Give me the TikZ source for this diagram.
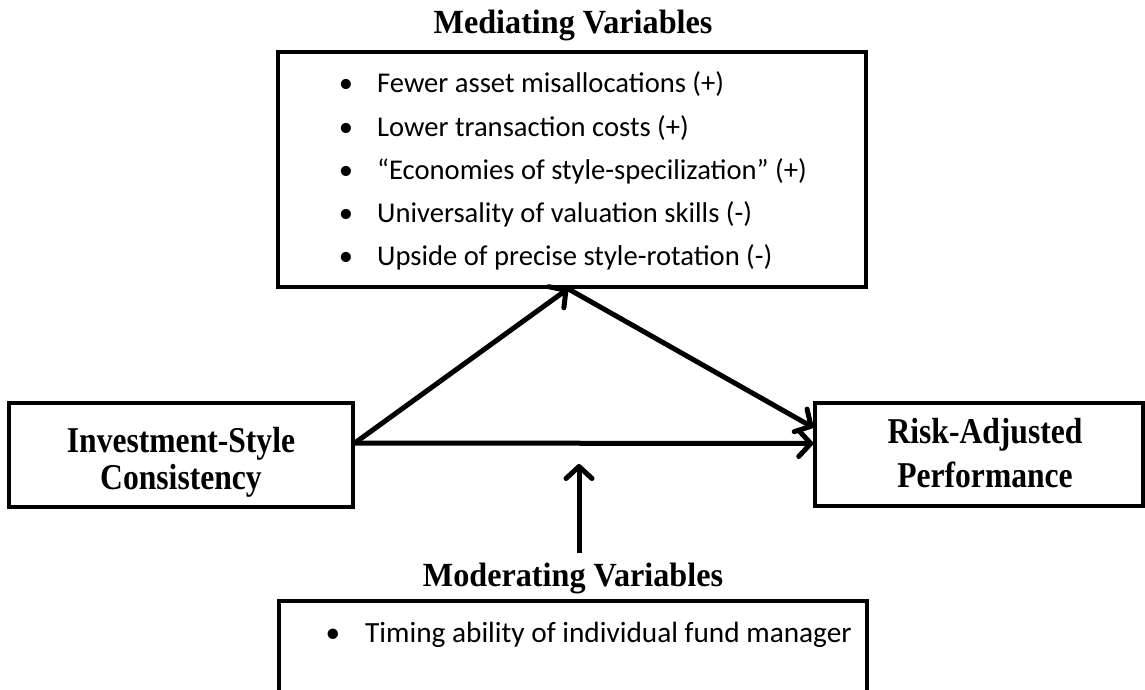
\documentclass[tikz,border=0pt]{standalone}
\usepackage{fontspec}
\usepackage{graphicx}
\setmainfont{Liberation Serif}
\newfontfamily\bodyfont{Carlito}
\usetikzlibrary{arrows.meta}
\newcommand{\tallB}[1]{\scalebox{1}[1.15]{#1}}
\newcommand{\tallT}[1]{\scalebox{1}[1.05]{#1}}
\tikzset{
  box/.style={draw=black, line width=3.5pt, rectangle, inner sep=0pt},
  lbl/.style={font=\fontsize{31.6}{35}\selectfont\bfseries, anchor=base, inner sep=0pt},
  ttl/.style={font=\fontsize{32.2}{35}\selectfont\bfseries, anchor=base, inner sep=0pt},
  itm/.style={font=\bodyfont\fontsize{28.6}{34}\selectfont, anchor=base west, inner sep=0pt},
  bul/.style={font=\bodyfont\fontsize{28.6}{34}\selectfont, anchor=base, inner sep=0pt},
  arr/.style={line width=5pt, -{Straight Barb[length=12pt,width=26pt,line cap=round,line join=round]}}
}
\begin{document}
\begin{tikzpicture}[x=1pt,y=-1pt]
\useasboundingbox (0,0) rectangle (1145,690);
\clip (0,0) rectangle (1145,690);
\fill[white] (0,0) rectangle (1145,690);
% titles
\node[ttl] (medt) at (573,34) {\tallT{Mediating Variables}};
\node[ttl] (modt) at (573,586) {\tallT{Moderating Variables}};
% boxes
\node[box, minimum width=588pt, minimum height=235pt] (med) at (572,169.5) {};
\node[box, minimum width=344pt, minimum height=104pt] (inv) at (181,455) {};
\node[box, minimum width=328pt, minimum height=103pt] (risk) at (979,454.5) {};
\node[box, minimum width=588pt, minimum height=200pt] (mod) at (573,701) {};
% box texts
\node[lbl] (invt1) at (181,452) {\tallB{Investment-Style}};
\node[lbl] (invt2) at (181,489) {\tallB{Consistency}};
\node[lbl] (riskt1) at (985,443) {\tallB{Risk-Adjusted}};
\node[lbl] (riskt2) at (985,487) {\tallB{Performance}};
% mediating items
\node[bul] (b1) at (346,93) {•};
\node[itm] (i1) at (377,93) {Fewer asset misallocations (+)};
\node[bul] (b2) at (346,136) {•};
\node[itm] (i2) at (377,136) {Lower transaction costs (+)};
\node[bul] (b3) at (346,179) {•};
\node[itm] (i3) at (377,179) {“Economies of style-specilization” (+)};
\node[bul] (b4) at (346,222) {•};
\node[itm] (i4) at (377,222) {Universality of valuation skills (-)};
\node[bul] (b5) at (346,265) {•};
\node[itm] (i5) at (377,265) {Upside of precise style-rotation (-)};
% moderating item
\node[bul, font=\bodyfont\fontsize{29.3}{34}\selectfont] (b6) at (333,642) {•};
\node[itm, font=\bodyfont\fontsize{29.3}{34}\selectfont] (i6) at (365,642) {Timing ability of individual fund manager};
% connectors
\coordinate (start) at ([yshift=12pt]inv.east);
\coordinate (apex) at ([xshift=-4pt]med.south);
\coordinate (endh) at ([yshift=11pt]risk.west);
\coordinate (endd) at ([yshift=27pt]risk.west);
\coordinate (vb) at (579,553);
\coordinate (vt) at (579,464);
\draw[arr] (start) -- (apex);
\draw[arr] (apex) -- (endd);
\draw[arr] (start) -- (endh);
\draw[arr] (vb) -- (vt);
\end{tikzpicture}
\end{document}
